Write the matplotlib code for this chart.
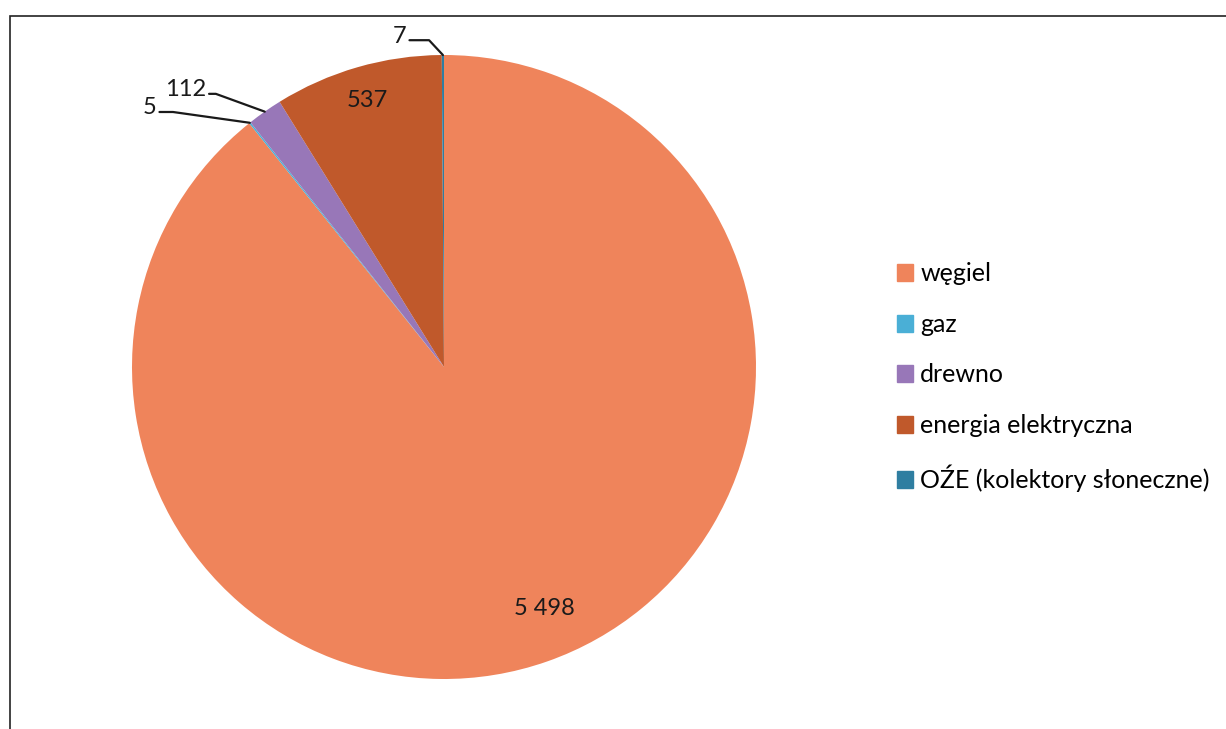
import matplotlib
matplotlib.use("Agg")
import matplotlib.pyplot as plt
from matplotlib.patches import Rectangle
import numpy as np

plt.rcParams['font.family'] = ['Lato', 'DejaVu Sans']

# data
categories = ['węgiel', 'gaz', 'drewno', 'energia elektryczna', 'OŹE (kolektory słoneczne)']
values = [5498, 5, 112, 537, 7]
value_labels = ['5 498', '5', '112', '537', '7']
colors = ['#EF845B', '#4AAFD6', '#9877B8', '#C0592B', '#2F7EA1']

W, H = 1226, 729
fig = plt.figure(figsize=(W / 100, H / 100), dpi=100)

# scanned frame
fig.patches.append(Rectangle((10 / W, -0.05), 1.1, (H - 16) / H + 0.05,
                             transform=fig.transFigure, fill=False,
                             edgecolor='#222222', linewidth=1.2))

# pie axes: center (444, 367) px, radius 312 px
r = 312
ax = fig.add_axes([(444 - r) / W, (H - 367 - r) / H, 2 * r / W, 2 * r / H])
wedges, _ = ax.pie(values, colors=colors, startangle=90, counterclock=False,
                   radius=1, wedgeprops=dict(linewidth=0))
ax.set_xlim(-1, 1)
ax.set_ylim(-1, 1)
ax.axis('off')

# mid angles of each wedge
mids = [np.deg2rad((w.theta1 + w.theta2) / 2) for w in wedges]

# inside labels
inside = {0: 0.82, 3: 0.89}
for i, rr in inside.items():
    ax.text(rr * np.cos(mids[i]) + 0.05 * (i == 0), rr * np.sin(mids[i]), value_labels[i],
            ha='center', va='center', fontsize=17, color='#1a1a1a')

# outside labels with leader lines: (offset px, angle of leader at wedge)
outside = {4: ((-43, 19), 133), 2: ((-79, 22), 160), 1: ((-100, 15), 172)}
for i, (off, angB) in outside.items():
    ax.annotate(value_labels[i], xy=(np.cos(mids[i]), np.sin(mids[i])),
                xytext=off, textcoords='offset pixels',
                ha='center', va='center', fontsize=17, color='#1a1a1a',
                arrowprops=dict(arrowstyle='-', color='#1a1a1a', lw=1.6,
                                shrinkA=0, shrinkB=0, relpos=(1, 0.3),
                                connectionstyle=f'angle,angleA=0,angleB={angB},rad=0'))

# legend
handles = [Rectangle((0, 0), 1, 1, color=c) for c in colors]
fig.legend(handles, categories, loc='upper left',
           bbox_to_anchor=(884 / W, (H - 250) / H), frameon=False,
           fontsize=18, handlelength=0.65, handleheight=0.65,
           handletextpad=0.3, labelspacing=1.1, borderpad=0)

fig.savefig('out.png', dpi=100)
